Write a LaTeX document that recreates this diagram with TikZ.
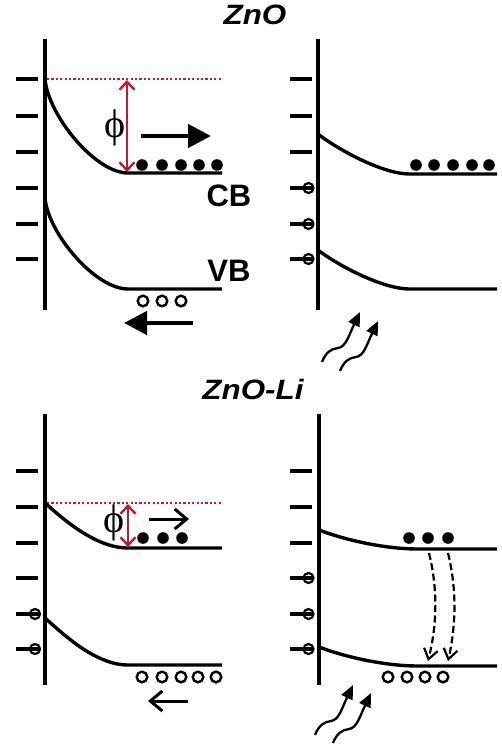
\documentclass[tikz,border=0pt]{standalone}
\usepackage{fontspec}
\setmainfont{Liberation Sans}
\newfontfamily\phifont{Liberation Serif}
\usetikzlibrary{arrows.meta}
\definecolor{phired}{RGB}{185,30,42}
\begin{document}
\begin{tikzpicture}[x=1pt,y=-1pt,
  axisline/.style={line width=3.8pt},
  band/.style={line width=3.4pt},
  tickmark/.style={line width=3.4pt},
  tickcirc/.style={line width=2.2pt},
  electron/.style={fill=black},
  hole/.style={draw=black,line width=2.4pt,fill=white},
  fermi/.style={phired,line width=2.4pt,dash pattern=on 2.2pt off 2.2pt},
  barrier/.style={phired,line width=2.4pt,{Straight Barb[length=8pt,width=15pt]}-{Straight Barb[length=8pt,width=15pt]}},
  bigarrow/.style={line width=4.5pt,-{Triangle[length=23pt,width=23pt]}},
  thinarrow/.style={line width=3pt,-{Straight Barb[length=12pt,width=20pt]}},
  recomb/.style={line width=2.2pt,dash pattern=on 7pt off 3.5pt,-{Straight Barb[length=10pt,width=14pt]}},
  photon/.style={line width=2.3pt,-{Triangle[length=14pt,width=12pt]}},
  title/.style={font=\fontsize{28}{28}\selectfont\bfseries\itshape,xscale=1.12,inner sep=0pt},
  bandlabel/.style={font=\fontsize{31}{31}\selectfont\bfseries,inner sep=0pt},
  philabel/.style={font=\phifont\fontsize{40}{40}\selectfont}]
\useasboundingbox (0,0) rectangle (501,751);

% ---------- titles
\node[title] (t1) at (255,15) {ZnO};
\node[title] (t2) at (253,389) {ZnO-Li};

% ================= TOP LEFT =================
\draw[axisline] (45,39) -- (45,310);
\foreach \y in {79,116,152,188,224,259} \draw[tickmark] (16,\y) -- (38,\y);
\draw[fermi] (47,79) -- (223,79);
\draw[band] (45,79) .. controls (48,115) and (95,173) .. (128,173) -- (222,173);
\draw[band] (45,198) .. controls (48,233) and (95,289) .. (128,289) -- (222,289);
\draw[barrier] (127,80) -- (127,172);
\node[philabel] (p1) at (115,128) {ϕ};
\draw[bigarrow] (141,136) -- (211,136);
\foreach \x in {142,162,181,199,217} \fill[electron] (\x,165) circle (5.8);
\foreach \x in {143,162,181} \draw[hole] (\x,301) circle (5.3);
\draw[bigarrow] (193,323) -- (124,323);
\node[bandlabel] (cb) at (229,196) {CB};
\node[bandlabel] (vb) at (229,271) {VB};

% ================= TOP RIGHT =================
\draw[axisline] (318,39) -- (318,310);
\foreach \y in {79,116,152} \draw[tickmark] (290,\y) -- (312,\y);
\foreach \y in {188,224,259} {
  \draw[tickmark] (290,\y) -- (312,\y);
  \draw[tickcirc] (308.5,\y) circle (5);
}
\draw[band] (318,134) .. controls (333,146) and (380,174) .. (410,174) -- (497,174);
\draw[band] (318,250) .. controls (333,262) and (380,289) .. (410,289) -- (497,289);
\foreach \x in {416,434,453,472,489} \fill[electron] (\x,165) circle (5.8);
\draw[photon] (322,362) .. controls (326,352) and (331,349) .. (338,348)
  .. controls (346,347) and (349,335) .. (360,312);
\draw[photon] (340,371) .. controls (344,361) and (349,358) .. (356,357)
  .. controls (364,356) and (367,344) .. (378,321);

% ================= BOTTOM LEFT =================
\draw[axisline] (45,414) -- (45,685);
\foreach \y in {471,507,543,578} \draw[tickmark] (16,\y) -- (38,\y);
\foreach \y in {614,649} {
  \draw[tickmark] (16,\y) -- (40,\y);
  \draw[tickcirc] (35,\y) circle (5);
}
\draw[fermi] (47,503) -- (223,503);
\draw[band] (45,503) .. controls (62,518) and (95,548) .. (128,548) -- (222,548);
\draw[band] (45,618) .. controls (62,633) and (95,665) .. (128,665) -- (222,665);
\draw[barrier] (128,504) -- (128,547);
\node[philabel] (p2) at (114,523) {ϕ};
\draw[thinarrow] (149,519) -- (189,519);
\foreach \x in {143,163,182} \fill[electron] (\x,538) circle (5.8);
\foreach \x in {142,162,181,198,216} \draw[hole] (\x,677) circle (5.3);
\draw[thinarrow] (188,701) -- (148,701);

% ================= BOTTOM RIGHT =================
\draw[axisline] (319,414) -- (319,685);
\foreach \y in {471,507,543} \draw[tickmark] (290,\y) -- (312,\y);
\foreach \y in {578,614,649} {
  \draw[tickmark] (290,\y) -- (312,\y);
  \draw[tickcirc] (308.5,\y) circle (5);
}
\draw[band] (319,530) .. controls (345,540) and (385,549) .. (418,549) -- (497,549);
\draw[band] (319,647) .. controls (345,657) and (385,666) .. (418,666) -- (497,666);
\foreach \x in {409,428,448} \fill[electron] (\x,538) circle (5.8);
\foreach \x in {388,407,425,443} \draw[hole] (\x,677) circle (5.3);
\draw[recomb] (429,553) .. controls (438,590) and (437,625) .. (428,661);
\draw[recomb] (448,553) .. controls (457,590) and (456,625) .. (448,661);
\draw[photon] (315,735) .. controls (319,725) and (324,722) .. (331,721)
  .. controls (339,720) and (342,708) .. (353,685);
\draw[photon] (333,743) .. controls (337,733) and (342,730) .. (349,729)
  .. controls (357,728) and (360,716) .. (371,693);
\end{tikzpicture}
\end{document}
